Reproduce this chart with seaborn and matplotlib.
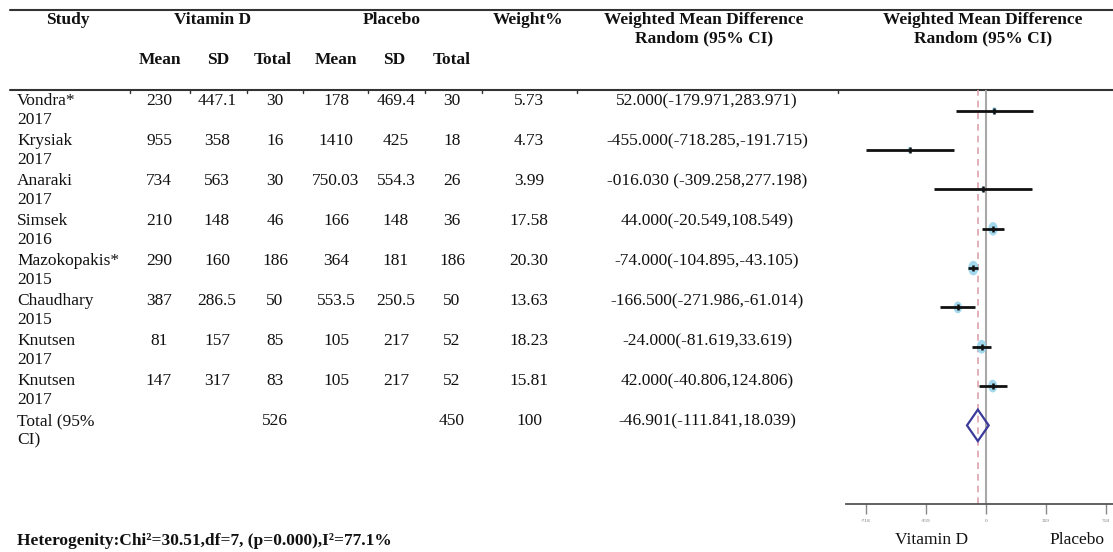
import numpy as np
import pandas as pd
import matplotlib.pyplot as plt
import seaborn as sns

sns.set_theme(style="white")
plt.rcParams['font.family'] = ['Liberation Serif', 'DejaVu Serif']

study = ["Vondra*", "Krysiak", "Anaraki", "Simsek", "Mazokopakis*", "Chaudhary", "Knutsen", "Knutsen"]
year = ["2017", "2017", "2017", "2016", "2015", "2015", "2017", "2017"]
vit_mean = ["230", "955", "734", "210", "290", "387", "81", "147"]
vit_sd = ["447.1", "358", "563", "148", "160", "286.5", "157", "317"]
vit_n = ["30", "16", "30", "46", "186", "50", "85", "83"]
pla_mean = ["178", "1410", "750.03", "166", "364", "553.5", "105", "105"]
pla_sd = ["469.4", "425", "554.3", "148", "181", "250.5", "217", "217"]
pla_n = ["30", "18", "26", "36", "186", "50", "52", "52"]
weight = [5.73, 4.73, 3.99, 17.58, 20.30, 13.63, 18.23, 15.81]
wmd_txt = ["52.000(-179.971,283.971)", "-455.000(-718.285,-191.715)",
           "-016.030 (-309.258,277.198)", "44.000(-20.549,108.549)",
           "-74.000(-104.895,-43.105)", "-166.500(-271.986,-61.014)",
           "-24.000(-81.619,33.619)", "42.000(-40.806,124.806)"]
wmd = [52.0, -455.0, -16.030, 44.0, -74.0, -166.5, -24.0, 42.0]
ci_lo = [-179.971, -718.285, -309.258, -20.549, -104.895, -271.986, -81.619, -40.806]
ci_hi = [283.971, -191.715, 277.198, 108.549, -43.105, -61.014, 33.619, 124.806]

total_vit_n = "526"
total_pla_n = "450"
total_weight = "100"
total_txt = "-46.901(-111.841,18.039)"
total_est, total_lo, total_hi = -46.901, -111.841, 18.039

tick_vals = [-718.285, -359.14, 0, 359.14, 718.285]
tick_labels = ["-718", "-359", "0", "359", "718"]

W, H = 1113, 552
fig = plt.figure(figsize=(W / 100, H / 100), dpi=100)

# table layer in pixel units
tab = fig.add_axes([0, 0, 1, 1])
tab.set_xlim(0, W)
tab.set_ylim(H, 0)
tab.axis("off")

fs = 12.5
bold = dict(fontsize=fs, fontweight="bold", ha="center", va="center", color="#111111")
norm = dict(fontsize=fs, ha="center", va="center", color="#111111")

tab.plot([10, W], [9.5, 9.5], color="#333333", lw=1.5)
tab.plot([10, W], [90, 90], color="#333333", lw=1.5)
for xm in [130, 190, 247, 303, 368, 425, 482, 577, 838]:
    tab.plot([xm, xm], [90, 93], color="#333333", lw=1)

tab.text(68, 20, "Study", **bold)
tab.text(213, 20, "Vitamin D", **bold)
tab.text(392, 20, "Placebo", **bold)
tab.text(528, 20, "Weight%", **bold)
tab.text(704, 20, "Weighted Mean Difference", **bold)
tab.text(704, 38, "Random (95% CI)", **bold)
tab.text(983, 20, "Weighted Mean Difference", **bold)
tab.text(983, 38, "Random (95% CI)", **bold)
for xh, lab in zip([160, 218, 273, 336, 394, 452], ["Mean", "SD", "Total", "Mean", "SD", "Total"]):
    tab.text(xh, 60, lab, **bold)

cols = [159, 217, 275, 336, 396, 452, 529, 707]
for i in range(len(study)):
    y = 101 + 40 * i
    tab.text(17, y, study[i], fontsize=fs, ha="left", va="center", color="#111111")
    tab.text(17, y + 19, year[i], fontsize=fs, ha="left", va="center", color="#111111")
    vals = [vit_mean[i], vit_sd[i], vit_n[i], pla_mean[i], pla_sd[i], pla_n[i],
            f"{weight[i]:.2f}", wmd_txt[i]]
    for xc, v in zip(cols, vals):
        tab.text(xc, y, v, **norm)

y = 101 + 40 * len(study)
tab.text(17, y, "Total (95%", fontsize=fs, ha="left", va="center", color="#111111")
tab.text(17, y + 19, "CI)", fontsize=fs, ha="left", va="center", color="#111111")
tab.text(cols[2], y, total_vit_n, **norm)
tab.text(cols[5], y, total_pla_n, **norm)
tab.text(cols[6], y, total_weight, **norm)
tab.text(cols[7], y, total_txt, **norm)

tab.text(17, 541, "Heterogenity:Chi\u00b2=30.51,df=7, (p=0.000),I\u00b2=77.1%",
         fontsize=fs, fontweight="bold", ha="left", va="center", color="#111111")

# forest plot
ax = fig.add_axes([846 / W, 48 / H, (W - 846) / W, 414 / H])
ax.patch.set_alpha(0)
df = pd.DataFrame({"row": np.arange(len(study)), "wmd": wmd, "lo": ci_lo,
                   "hi": ci_hi, "weight": weight})

t = np.linspace(0, 2 * np.pi, 40)
ellipse = np.column_stack([0.7 * np.cos(t), np.sin(t)])

ax.axvline(0, color="#a8a8a8", lw=1.5, zorder=1)
ax.axvline(total_est, color="#dba3ad", lw=1.2, ls=(0, (4, 3)), zorder=1)
sns.scatterplot(data=df, x="wmd", y="row", size="weight", sizes=(18, 110),
                marker=ellipse, color="#93d2ea", edgecolor="none", alpha=0.85,
                legend=False, ax=ax, zorder=2)
ax.hlines(df["row"], df["lo"], df["hi"], color="#111111", lw=2, zorder=3)
sns.scatterplot(data=df, x="wmd", y="row", marker="|", s=22, color="#111111",
                linewidth=1.8, legend=False, ax=ax, zorder=4)

r = len(study)
ax.fill([total_lo, total_est, total_hi, total_est, total_lo],
        [r, r - 0.4, r, r + 0.4, r], facecolor="none", edgecolor="#3b3b9a", lw=1.6, zorder=4)

ax.set_xlim(-836, 762)
ax.set_ylim(10.0, -0.53)
ax.set_xlabel("")
ax.set_ylabel("")
ax.set_yticks([])
ax.set_xticks(tick_vals)
ax.set_xticklabels(tick_labels)
ax.tick_params(axis="x", direction="out", length=7, width=1, color="#888888",
               labelsize=3.8, labelcolor="#777777", pad=4, bottom=True)
for s in ["top", "left", "right"]:
    ax.spines[s].set_visible(False)
ax.spines["bottom"].set_color("#555555")
ax.spines["bottom"].set_linewidth(1.3)

tab.text(932, 540, "Vitamin D", **norm)
tab.text(1077, 540, "Placebo", **norm)

fig.savefig("out.png", dpi=100)
